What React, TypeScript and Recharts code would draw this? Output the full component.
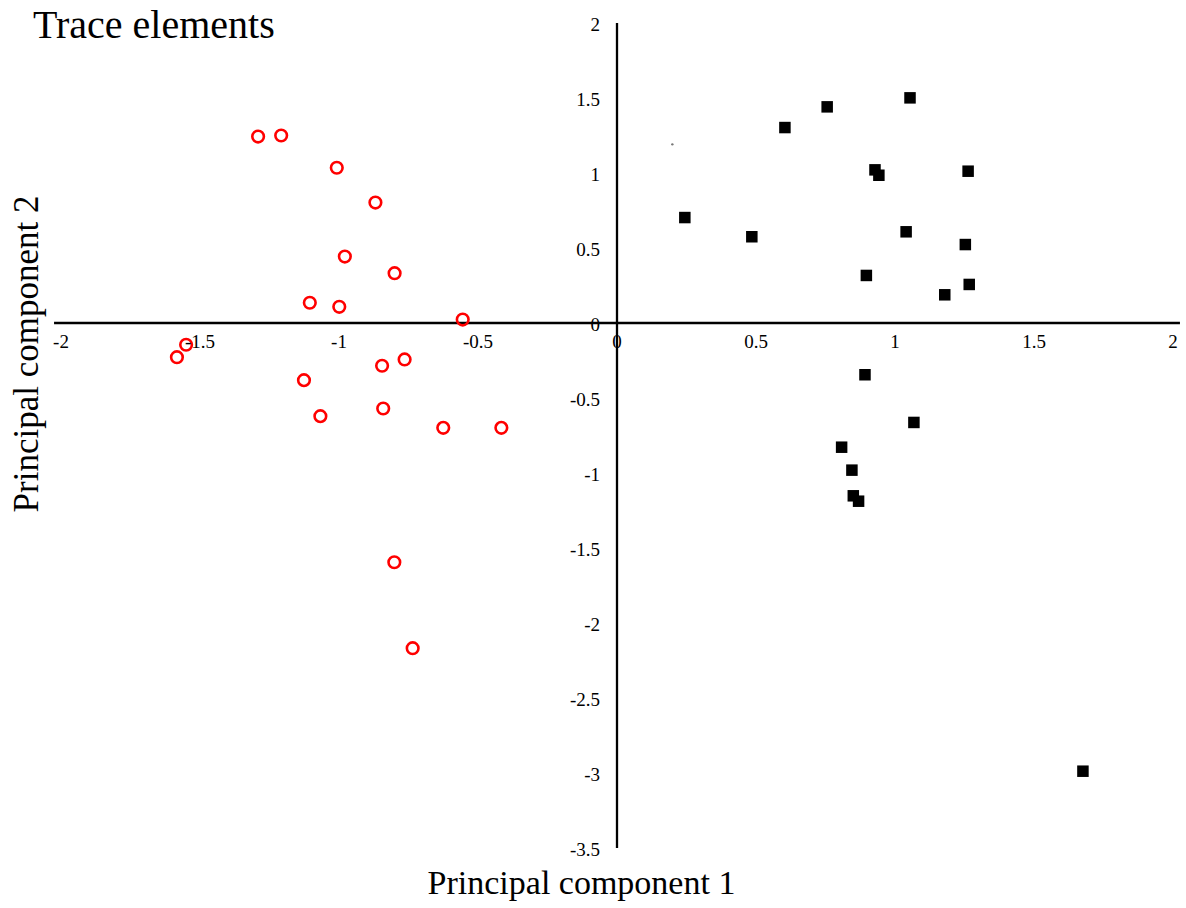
import { ScatterChart, Scatter, XAxis, YAxis, ReferenceLine } from "recharts";

const W = 1186;
const H = 908;
const AXIS_SIZE = 1;
const M = { top: 23, right: 13, bottom: 60 - AXIS_SIZE, left: 61 - AXIS_SIZE };
const X_DOMAIN: [number, number] = [-2, 2];
const Y_DOMAIN: [number, number] = [-3.5, 2];
const FONT = '"Liberation Serif", "Times New Roman", serif';

const xTicks = [-2, -1.5, -1, -0.5, 0, 0.5, 1, 1.5, 2];
const yTicks = [-3.5, -3, -2.5, -2, -1.5, -1, -0.5, 0, 0.5, 1, 1.5, 2];

// red open circles
const redX = [
  -1.291, -1.208, -1.008, -0.869, -0.979, -0.8, -1.105, -0.999, -0.555, -1.55,
  -1.583, -0.764, -0.845, -1.126, -0.841, -1.067, -0.625, -0.416, -0.801, -0.735,
];
const redY = [
  1.243, 1.25, 1.035, 0.803, 0.443, 0.332, 0.135, 0.108, 0.023, -0.145,
  -0.228, -0.243, -0.285, -0.381, -0.57, -0.621, -0.699, -0.699, -1.595, -2.168,
];

// black filled squares
const blackX = [
  1.054, 0.756, 0.604, 0.928, 0.942, 1.263, 0.244, 0.485, 1.04, 1.253,
  0.897, 1.267, 1.179, 0.892, 1.068, 0.808, 0.845, 0.85, 0.869, 1.676,
];
const blackY = [
  1.501, 1.441, 1.303, 1.021, 0.985, 1.012, 0.703, 0.575, 0.608, 0.523,
  0.317, 0.257, 0.188, -0.345, -0.663, -0.828, -0.981, -1.152, -1.188, -2.988,
];

// stray speck in the original
const strayX = [0.199];
const strayY = [1.191];

const toPoints = (xs: number[], ys: number[]) => xs.map((x, i) => ({ x, y: ys[i] }));
const redData = toPoints(redX, redY);
const blackData = toPoints(blackX, blackY);
const strayData = toPoints(strayX, strayY);

const plotLeft = M.left + AXIS_SIZE;
const plotW = W - plotLeft - M.right;
const plotH = H - M.top - M.bottom - AXIS_SIZE;
const zeroX = plotLeft + (plotW * (0 - X_DOMAIN[0])) / (X_DOMAIN[1] - X_DOMAIN[0]);
const zeroY = M.top + (plotH * (Y_DOMAIN[1] - 0)) / (Y_DOMAIN[1] - Y_DOMAIN[0]);

const XTick = (p: any) => (
  <text x={p.x} y={zeroY + 18} textAnchor="middle" dominantBaseline="central"
    fontFamily={FONT} fontSize={19} fill="#000">
    {String(p.payload.value)}
  </text>
);

const YTick = (p: any) => (
  <text x={zeroX - 17} y={p.y + 1} textAnchor="end" dominantBaseline="central"
    fontFamily={FONT} fontSize={19} fill="#000">
    {String(p.payload.value)}
  </text>
);

const Ring = (p: any) => (
  <circle cx={p.cx} cy={p.cy} r={5.8} fill="none" stroke="#ff0000" strokeWidth={2.6} />
);
const Square = (p: any) => (
  <rect x={p.cx - 5.75} y={p.cy - 5.75} width={11.5} height={11.5} fill="#000" />
);
const Speck = (p: any) => <circle cx={p.cx} cy={p.cy} r={1.2} fill="#777" />;

export default function App() {
  return (
    <div style={{ position: "absolute", left: 0, top: 0, width: W, height: H, background: "#fff" }}>
      <ScatterChart width={W} height={H} margin={M}>
        <XAxis type="number" dataKey="x" domain={X_DOMAIN} ticks={xTicks} interval={0}
          height={AXIS_SIZE} axisLine={false} tickLine={false} tick={<XTick />} allowDataOverflow />
        <YAxis type="number" dataKey="y" domain={Y_DOMAIN} ticks={yTicks} interval={0}
          width={AXIS_SIZE} axisLine={false} tickLine={false} tick={<YTick />} allowDataOverflow />
        <ReferenceLine segment={[{ x: -2.025, y: 0 }, { x: 2.025, y: 0 }]} ifOverflow="visible"
          stroke="#000" strokeWidth={2.5} />
        <ReferenceLine x={0} stroke="#000" strokeWidth={2.3} />
        <Scatter name="stray" data={strayData} shape={<Speck />} isAnimationActive={false} />
        <Scatter name="red" data={redData} shape={<Ring />} isAnimationActive={false} />
        <Scatter name="black" data={blackData} shape={<Square />} isAnimationActive={false} />
      </ScatterChart>
      <svg width={W} height={H} style={{ position: "absolute", left: 0, top: 0, pointerEvents: "none" }}>
        <text x={33} y={38} fontFamily={FONT} fontSize={40} fill="#000">Trace elements</text>
        <text x={581.5} y={894} textAnchor="middle" fontFamily={FONT} fontSize={34} fill="#000">
          Principal component 1
        </text>
        <text transform="translate(38,354) rotate(-90)" textAnchor="middle" fontFamily={FONT}
          fontSize={35} fill="#000">
          Principal component 2
        </text>
      </svg>
    </div>
  );
}
